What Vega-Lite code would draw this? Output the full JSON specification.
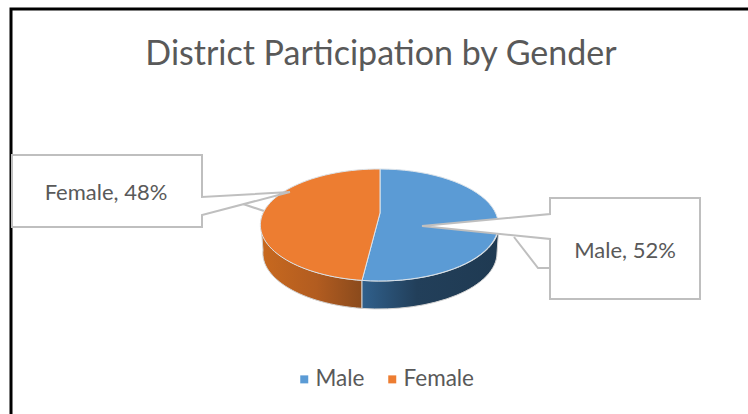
{
"$schema":"https://vega.github.io/schema/vega-lite/v6.json",
"width":748,"height":414,"padding":0,"autosize":{"type":"none"},
"background":"white",
"view":{"stroke":null},
"title":{"text":"District Participation by Gender","font":"Lato","fontSize":34,"fontWeight":400,"color":"#595959","anchor":"middle","offset":0,"dy":99,"dx":7,"baseline":"alphabetic"},
"data":{"values":[{"gender":"Male","share":52},{"gender":"Female","share":48}]},
"transform":[{"calculate":"datum.gender + ', ' + datum.share + '%'","as":"label"}],
"resolve":{"scale":{"shape":"independent"}},
"layer":[
{"data":{"values":[{"part":"chart frame"}]},"transform":[],
 "mark":{"type":"point","shape":"M-363,207L-363,-198L374,-198","size":4,"filled":false,"fill":null,"stroke":"#000000","strokeWidth":3,"opacity":1},"encoding":{}},
{"mark":{"type":"point","size":4,"filled":false,"fill":null,"stroke":"#bfbfbf","strokeWidth":2,"opacity":1},
 "encoding":{"shape":{"field":"gender","legend":null,"scale":{"domain":["Male","Female"],"range":["M140,30L164,61L176,61","M-131,-3L-110,4"]}}}},
{"transform":[{"filter":"datum.gender==='Female'"}],
 "mark":{"type":"point","size":4,"shape":"M-113,18A119,56 0 0 0 -12,73.4L-12,101.4A117,56 0 0 1 -111,43Z","filled":true,"opacity":1,"stroke":"#d2d2d2","strokeWidth":1,
 "fill":{"gradient":"linear","x1":0,"y1":0,"x2":1,"y2":0,"stops":[{"offset":0,"color":"#c8691f"},{"offset":0.55,"color":"#b25c20"},{"offset":1,"color":"#8a4a1c"}]}},"encoding":{}},
{"transform":[{"filter":"datum.gender==='Male'"}],
 "mark":{"type":"point","size":4,"shape":"M-12,73.4A119,56 0 0 0 125,18L123,46A118,56 0 0 1 -12,101.4Z","filled":true,"opacity":1,"stroke":"#d2d2d2","strokeWidth":1,
 "fill":{"gradient":"linear","x1":0,"y1":0,"x2":1,"y2":0,"stops":[{"offset":0,"color":"#30608c"},{"offset":0.4,"color":"#223f5a"},{"offset":1,"color":"#1f3a52"}]}},"encoding":{}},
{"mark":{"type":"point","size":4,"filled":true,"opacity":1,"stroke":"#dbe3ea","strokeWidth":1},
 "encoding":{
  "color":{"field":"gender","type":"nominal","scale":{"domain":["Male","Female"],"range":["#5b9bd5","#ed7d31"]},
   "legend":{"title":null,"orient":"none","legendX":293,"legendY":368,"direction":"horizontal","symbolType":"square","symbolSize":64,"labelFont":"Lato","labelFontSize":22.5,"labelColor":"#595959","columnPadding":16,"symbolStrokeWidth":0,"labelOffset":0}},
  "shape":{"field":"gender","legend":null,"scale":{"domain":["Male","Female"],"range":["M6,6L6,-38A119,56 0 1 1 -12,73.4Z","M6,6L-12,73.4A119,56 0 0 1 6,-38Z"]}}}},
{"mark":{"type":"point","size":4,"filled":true,"fill":"#ffffff","opacity":1,"stroke":"#bfbfbf","strokeWidth":2},
 "encoding":{"shape":{"field":"gender","legend":null,"scale":{"domain":["Male","Female"],"range":["M176,-9L326,-9L326,92L176,92L176,32L48,19L176,7Z","M-362,-52L-172,-52L-172,-10L-84,-15L-172,8L-172,20L-362,20Z"]}}}},
{"transform":[{"filter":"datum.gender==='Female'"}],
 "mark":{"type":"text","font":"Lato","fontSize":22,"color":"#595959","align":"center","baseline":"middle","dx":-268,"dy":-14},
 "encoding":{"text":{"field":"label"}}},
{"transform":[{"filter":"datum.gender==='Male'"}],
 "mark":{"type":"text","font":"Lato","fontSize":22,"color":"#595959","align":"center","baseline":"middle","dx":251,"dy":44},
 "encoding":{"text":{"field":"label"}}}
]
}
